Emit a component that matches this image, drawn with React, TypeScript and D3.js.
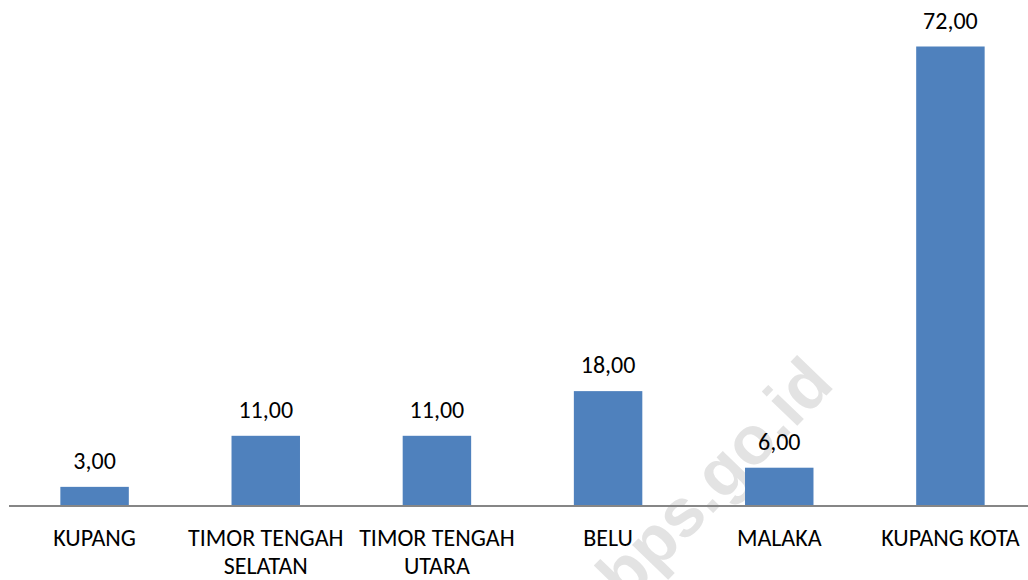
import React from 'react';
import * as d3 from 'd3';

// kabupaten / kota
const categories: string[][] = [
  ['KUPANG'],
  ['TIMOR TENGAH', 'SELATAN'],
  ['TIMOR TENGAH', 'UTARA'],
  ['BELU'],
  ['MALAKA'],
  ['KUPANG KOTA'],
];
const values: number[] = [3, 11, 11, 18, 6, 72];

const W = 1028;
const H = 580;
const FONT = 'Carlito, Lato, "Liberation Sans", Arial, sans-serif';

const fmt = (v: number) => v.toFixed(2).replace('.', ',');

export default function App() {
  const x = d3
    .scaleBand<number>()
    .domain(d3.range(values.length))
    .range([9, 1036])
    .paddingInner(0.6)
    .paddingOuter(0.3);

  const y = d3.scaleLinear().domain([0, 72]).range([506, 46.5]);

  return (
    <svg
      width={W}
      height={H}
      style={{ position: 'absolute', left: 0, top: 0, background: '#fff' }}
      fontFamily={FONT}
    >
      {/* watermark */}
      <text
        transform="translate(718,482) rotate(-46)"
        textAnchor="middle"
        dominantBaseline="middle"
        fontSize={68}
        fontWeight="bold"
        fontFamily='"Liberation Sans", Arial, sans-serif'
        fill="#e3e3e3"
      >
        bps.go.id
      </text>

      {values.map((v, i) => (
        <rect
          key={'b' + i}
          x={x(i)}
          y={y(v)}
          width={x.bandwidth()}
          height={y(0) - y(v)}
          fill="#4f81bd"
        />
      ))}

      <line x1={9} x2={W} y1={y(0)} y2={y(0)} stroke="#868686" strokeWidth={2} />

      {values.map((v, i) => (
        <text
          key={'v' + i}
          x={(x(i) as number) + x.bandwidth() / 2}
          y={y(v) - 18}
          textAnchor="middle"
          fontSize={24}
          fill="#000"
        >
          {fmt(v)}
        </text>
      ))}

      {categories.map((lines, i) => (
        <text
          key={'c' + i}
          x={(x(i) as number) + x.bandwidth() / 2}
          y={546}
          textAnchor="middle"
          fontSize={24}
          fill="#000"
        >
          {lines.map((l, j) => (
            <tspan key={j} x={(x(i) as number) + x.bandwidth() / 2} dy={j === 0 ? 0 : 28}>
              {l}
            </tspan>
          ))}
        </text>
      ))}
    </svg>
  );
}
